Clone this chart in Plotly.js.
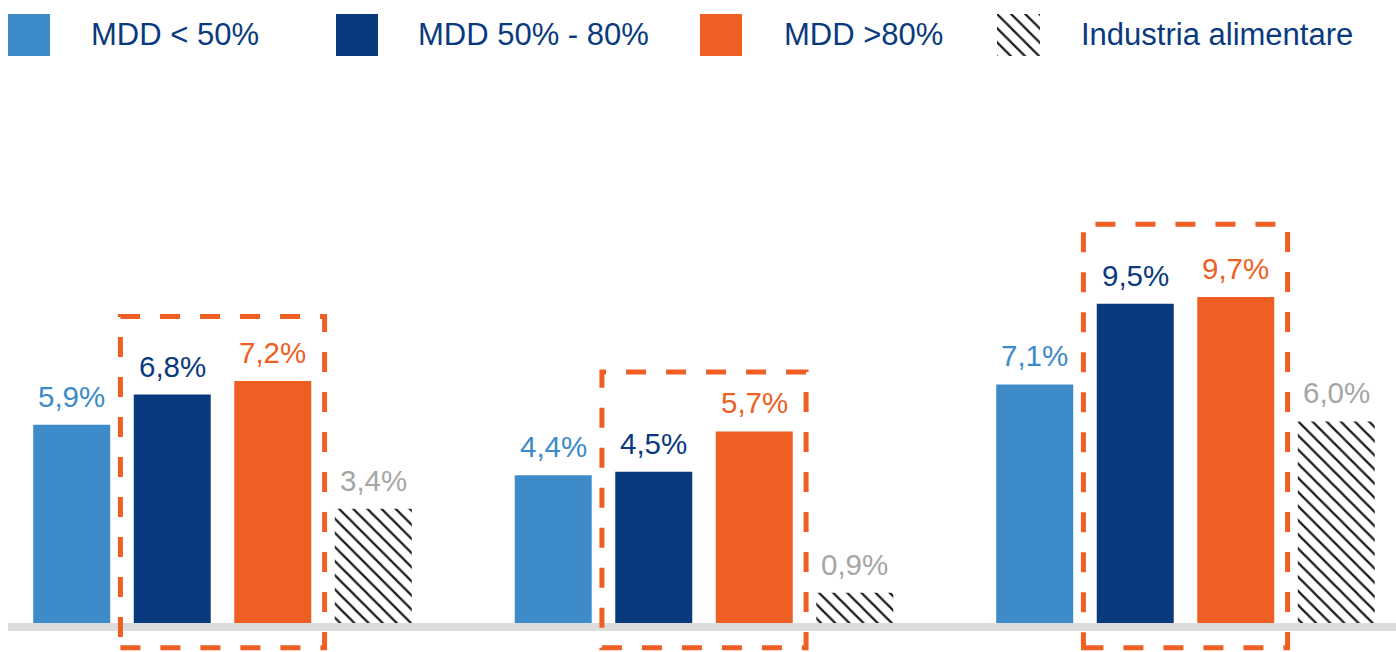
<!DOCTYPE html>
<html>
<head>
<meta charset="utf-8">
<script src="https://cdn.plot.ly/plotly-3.0.1.min.js"></script>
<style>
  html, body { margin: 0; padding: 0; background: #ffffff; }
  #chart { width: 1396px; height: 652px; }
</style>
</head>
<body>
<div id="chart"></div>
<script>
// ---- data ----
const groups = ['Gruppo 1', 'Gruppo 2', 'Gruppo 3'];
const seriesNames = ['MDD < 50%', 'MDD 50% - 80%', 'MDD >80%', 'Industria alimentare'];
const mddUnder50 = [5.9, 4.4, 7.1];
const mdd50to80 = [6.8, 4.5, 9.5];
const mddOver80 = [7.2, 5.7, 9.7];
const industria = [3.4, 0.9, 6.0];
const seriesValues = [mddUnder50, mdd50to80, mddOver80, industria];

// ---- styles ----
const barColors = ['#3d8bc9', '#0a3a7e', '#ef5f23', '#ffffff'];
const labelColors = ['#3d8bc9', '#0a3a7e', '#ef5f23', '#a6a6a6'];
const textColor = '#0a3a7e';
const FONT = '"Liberation Sans", Arial, sans-serif';
const W = 1396, H = 652;
const BARGAP = 0.165, GROUPGAP = 0.234;
const slot = (1 - BARGAP) / 4;
const hatch = { shape: '\\', fgcolor: '#1a1a1a', bgcolor: '#ffffff', size: 10, solidity: 0.22 };

const fmt = v => v.toFixed(1).replace('.', ',') + '%';

const traces = seriesValues.map((vals, s) => {
  const t = {
    type: 'bar',
    name: seriesNames[s],
    x: groups,
    y: vals,
    marker: { color: barColors[s], line: { width: 0 } },
    hoverinfo: 'name+y',
    showlegend: false
  };
  if (s === 3) t.marker.pattern = hatch;
  return t;
});

// hatched legend swatch on a tiny helper axis
traces.push({
  type: 'bar', x: [0], y: [1], width: [1], xaxis: 'x2', yaxis: 'y2',
  marker: { color: '#ffffff', line: { width: 0 }, pattern: hatch },
  hoverinfo: 'skip', showlegend: false
});

// value labels
const annotations = [];
seriesValues.forEach((vals, s) => {
  vals.forEach((v, g) => {
    annotations.push({
      x: g + (s - 1.5) * slot, y: v, xref: 'x', yref: 'y',
      text: fmt(v), showarrow: false, yanchor: 'bottom', yshift: 10,
      font: { family: FONT, size: 29.5, color: labelColors[s] }
    });
  });
});

// legend
const legendSwatchX = [8, 336, 700, 997];
const legendTextX = [89, 416, 782, 1079];
const shapes = [];
seriesNames.forEach((n, s) => {
  if (s < 3) {
    shapes.push({
      type: 'rect', xref: 'paper', yref: 'paper',
      xsizemode: 'pixel', ysizemode: 'pixel', xanchor: 0, yanchor: 1,
      x0: legendSwatchX[s], x1: legendSwatchX[s] + 42, y0: -14, y1: -56,
      fillcolor: barColors[s], line: { width: 0 }
    });
  }
  annotations.push({
    x: legendTextX[s] / W, y: 1, xref: 'paper', yref: 'paper',
    xanchor: 'left', yanchor: 'middle', yshift: -34,
    text: n, showarrow: false,
    font: { family: FONT, size: 31, color: textColor }
  });
});

// baseline
shapes.push({
  type: 'rect', xref: 'paper', yref: 'y', x0: 8 / W, x1: 1,
  ysizemode: 'pixel', yanchor: 0, y0: -8, y1: 0,
  fillcolor: '#dcdcdc', line: { width: 0 }, layer: 'below'
});

// dashed highlight boxes around MDD 50-80 and MDD >80
groups.forEach((g, i) => {
  const top = Math.max(mdd50to80[i], mddOver80[i]) * 1.1 + 1.2;
  shapes.push({
    type: 'rect', xref: 'x', yref: 'y',
    x0: i - 0.212, x1: i + 0.212, y0: -0.74, y1: top,
    line: { color: '#ef5f23', width: 5, dash: '20px,20px' },
    fillcolor: 'rgba(0,0,0,0)', layer: 'above'
  });
});

// axis scaling: baseline at pixel 623, 33.6 px per unit
const PX = 33.6, plotBottom = 651, base = 623;
const layout = {
  width: W, height: H,
  margin: { l: 0, r: 0, t: 0, b: H - plotBottom, pad: 0 },
  paper_bgcolor: '#ffffff', plot_bgcolor: '#ffffff',
  barmode: 'group', bargap: BARGAP, bargroupgap: GROUPGAP,
  showlegend: false,
  xaxis: {
    type: 'category', range: [(0 - 222.5) / 481.5, (W - 222.5) / 481.5],
    showgrid: false, zeroline: false, showticklabels: false, ticks: '', showline: false, fixedrange: true
  },
  yaxis: {
    range: [-(plotBottom - base) / PX, base / PX],
    showgrid: false, zeroline: false, showticklabels: false, ticks: '', showline: false, fixedrange: true
  },
  xaxis2: { domain: [997 / W, 1040 / W], anchor: 'y2', range: [-0.5, 0.5], visible: false, fixedrange: true },
  yaxis2: { domain: [(plotBottom - 56) / plotBottom, (plotBottom - 14) / plotBottom], anchor: 'x2', range: [0, 1], visible: false, fixedrange: true },
  shapes: shapes,
  annotations: annotations,
  font: { family: FONT }
};

Plotly.newPlot('chart', traces, layout, { displayModeBar: false, staticPlot: true });
</script>
</body>
</html>
